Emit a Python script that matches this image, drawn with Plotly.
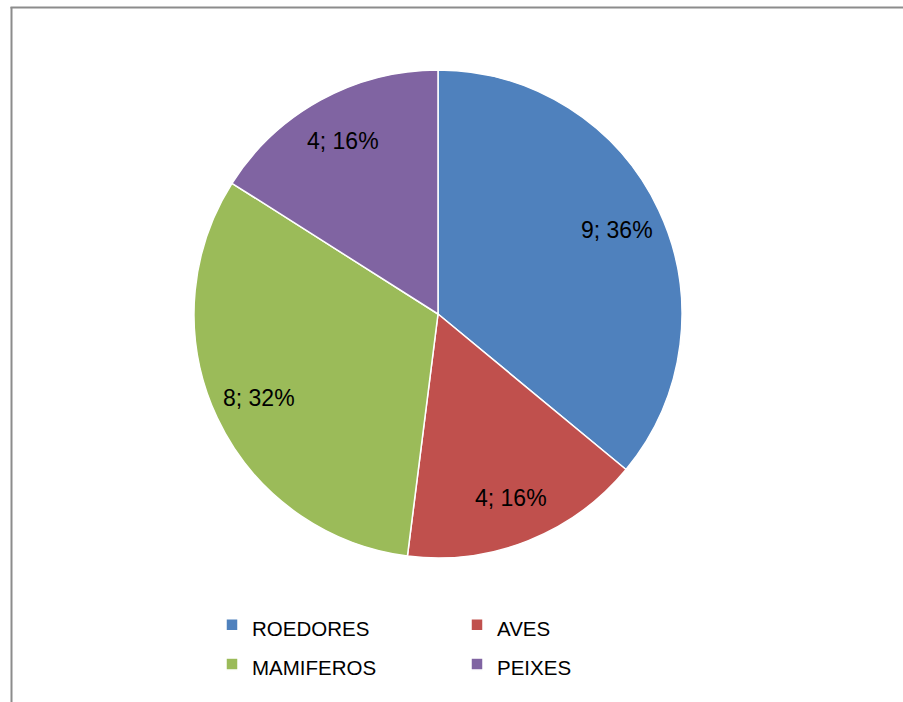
import math
import plotly.graph_objects as go

# Survey counts per animal group
categories = ["ROEDORES", "AVES", "MAMIFEROS", "PEIXES"]
counts = [9, 4, 8, 4]
colors = ["#4F81BD", "#C0504D", "#9BBB59", "#8064A2"]

W, H = 903, 702
ML, MR, MT, MB = 178, 205, 70, 144
PW = W - ML - MR
PH = H - MT - MB
R_PX = min(PW, PH) / 2          # pie radius drawn by plotly (domain is the full plot area)
LABEL_RADIUS = 0.81             # value labels sit along each slice bisector


def paper_x(px):
    return (px - ML) / PW


def paper_y(py):
    return 1 - (py - MT) / PH


FONT = "Liberation Sans, Arial, sans-serif"
# legend rows are spaced by the legend font size; entry text is drawn smaller
legend_labels = [f'<span style="font-size:20.5px">{c}</span>' for c in categories]

fig = go.Figure(
    go.Pie(
        labels=legend_labels,
        values=counts,
        sort=False,
        direction="clockwise",
        rotation=0,
        marker=dict(colors=colors, line=dict(color="white", width=1.5)),
        textinfo="none",
        hoverinfo="label+value+percent",
    )
)

# value labels "n; p%" placed along the bisector of each slice
total = sum(counts)
cum = 0
annotations = []
for v in counts:
    mid = (cum + v / 2) / total
    cum += v
    ang = 2 * math.pi * mid          # clockwise from 12 o'clock
    ax = 0.5 + LABEL_RADIUS * R_PX * math.sin(ang) / PW
    ay = 0.5 + LABEL_RADIUS * R_PX * math.cos(ang) / PH
    annotations.append(dict(
        x=ax, y=ay, xref="paper", yref="paper", showarrow=False,
        text=f"{v}; {round(100 * v / total)}%",
        font=dict(family=FONT, size=23, color="black"),
        xanchor="center", yanchor="middle",
    ))

frame = "#8c8c8c"
fig.update_layout(
    width=W,
    height=H,
    margin=dict(l=ML, r=MR, t=MT, b=MB),
    paper_bgcolor="white",
    plot_bgcolor="white",
    showlegend=True,
    annotations=annotations,
    legend=dict(
        orientation="h",
        x=paper_x(212),
        y=paper_y(600),
        xanchor="left",
        yanchor="top",
        entrywidth=200,
        traceorder="normal",
        font=dict(family=FONT, size=28, color="black"),
        bgcolor="rgba(0,0,0,0)",
    ),
    shapes=[
        dict(type="line", xref="paper", yref="paper",
             x0=paper_x(11.5), x1=paper_x(11.5), y0=paper_y(7), y1=paper_y(720),
             line=dict(color=frame, width=2)),
        dict(type="line", xref="paper", yref="paper",
             x0=paper_x(10.5), x1=paper_x(910), y0=paper_y(7.5), y1=paper_y(7.5),
             line=dict(color=frame, width=2)),
    ],
)

fig.write_html("out.html")
